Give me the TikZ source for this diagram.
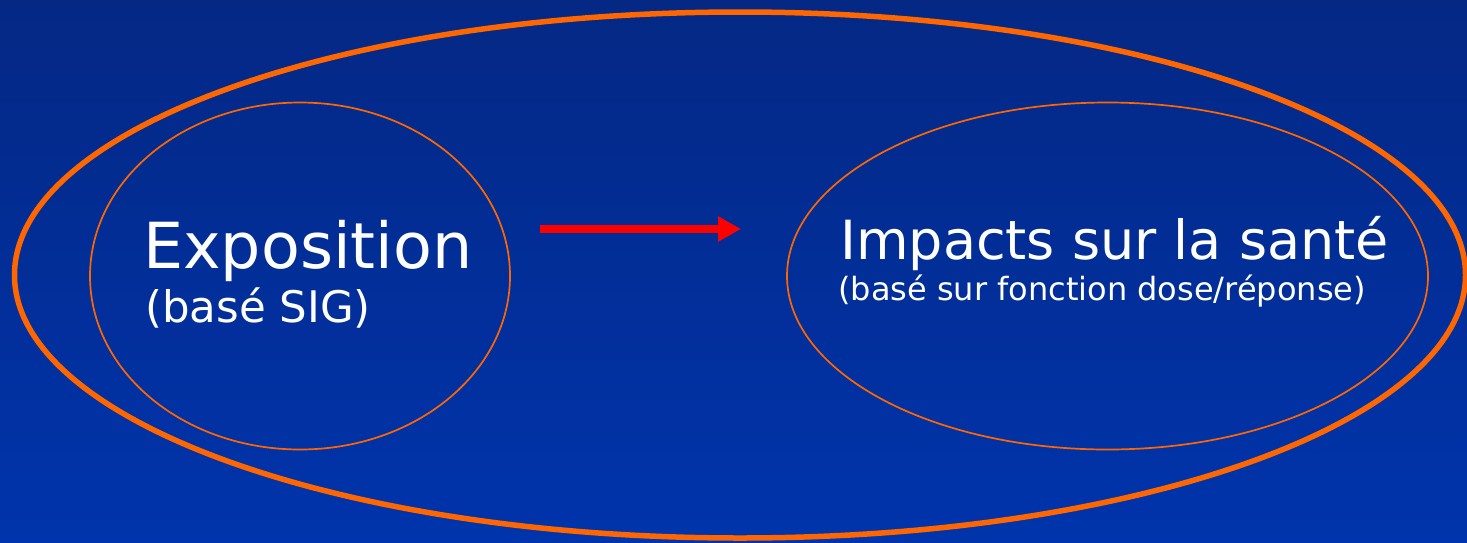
\documentclass[tikz,border=0pt]{standalone}
\usepackage{fontspec}
\setmainfont{DejaVu Sans}
\usepackage{xcolor}
\usetikzlibrary{arrows.meta, shapes.geometric}
\definecolor{slideorange}{RGB}{255,102,0}
\definecolor{slidetop}{RGB}{4,40,132}
\definecolor{slidebottom}{RGB}{0,52,172}
\tikzset{
  bigring/.style={ellipse, draw=slideorange, line width=5.5pt, inner sep=0pt},
  ring/.style={ellipse, draw=slideorange, line width=1.7pt, inner sep=0pt},
  label/.style={text=white, anchor=base west, inner sep=0pt},
  arrowline/.style={-{Triangle[length=23pt, width=24pt]}, draw=red, line width=8pt},
}

\begin{document}
\begin{tikzpicture}[x=1pt, y=-1pt]
\shade[top color=slidetop, bottom color=slidebottom] (0,0) rectangle (1467,542);
\useasboundingbox (0,0) rectangle (1467,542);

\node[bigring, minimum width=1451pt, minimum height=526pt] (outer)  at (740,275) {};
\node[ring, minimum width=420pt, minimum height=347pt]     (expo)   at (300,276) {};
\node[ring, minimum width=641pt, minimum height=347pt]     (impact) at (1107.5,276) {};

\node[label, font=\fontsize{63.5}{70}\selectfont] (expotitle) at (143,268) {Exposition};
\node[label, font=\fontsize{43.5}{46}\selectfont] (exponote)  at (145,322) {(basé SIG)};
\node[label, font=\fontsize{54}{60}\selectfont]   (imptitle)  at (840,259) {Impacts sur la santé};
\node[label, font=\fontsize{32}{34}\selectfont]   (impnote)   at (838,300) {(basé sur fonction dose/réponse)};

\coordinate (arrowstart) at (540,229);
\coordinate (arrowend)   at (741,229);
\draw[arrowline] (arrowstart) -- (arrowend);
\end{tikzpicture}
\end{document}
